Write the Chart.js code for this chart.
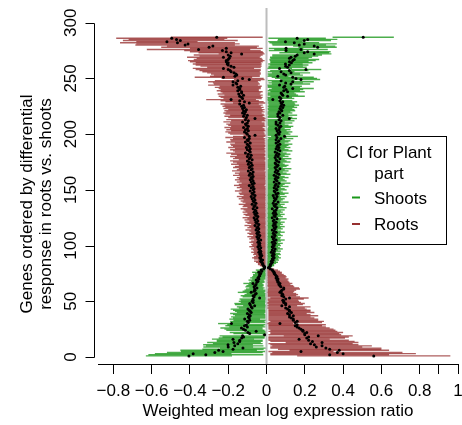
<!DOCTYPE html>
<html>
<head>
<meta charset="utf-8">
<script src="https://cdn.jsdelivr.net/npm/chart.js@4.4.1/dist/chart.umd.min.js"></script>
<style>
  html, body { margin: 0; padding: 0; background: #fff; }
  canvas { display: block; }
</style>
</head>
<body>
<canvas id="chart" width="462" height="425"></canvas>
<script>
// genes are listed from the bottom of the plot (rank 1) to the top (rank 287)
const rootMean = [
  0.56, 0.33, 0.40, 0.37, 0.18, 0.38, 0.33, 0.31, 0.26, 0.29,
  0.25, 0.23, 0.29, 0.24, 0.22, 0.17, 0.21, 0.22, 0.27, 0.20,
  0.20, 0.21, 0.19, 0.19, 0.18, 0.17, 0.16, 0.15, 0.16, 0.07,
  0.15, 0.16, 0.14, 0.14, 0.13, 0.12, 0.14, 0.12, 0.11, 0.13,
  0.12, 0.12, 0.11, 0.10, 0.12, 0.08, 0.10, 0.10, 0.09, 0.09,
  0.085, 0.10, 0.12, 0.09, 0.08, 0.085, 0.08, 0.07, 0.075, 0.08,
  0.09, 0.09, 0.075, 0.07, 0.065, 0.07, 0.06, 0.06, 0.055, 0.06,
  0.05, 0.055, 0.05, 0.045, 0.04, 0.04, 0.035, 0.03, 0.02, 0.01,
  -0.01, -0.015, -0.02, -0.02, -0.025, -0.03, -0.02, -0.03, -0.035, -0.03,
  -0.025, -0.035, -0.03, -0.04, -0.03, -0.035, -0.04, -0.03, -0.045, -0.035,
  -0.04, -0.035, -0.045, -0.04, -0.03, -0.045, -0.04, -0.05, -0.035, -0.045,
  -0.05, -0.04, -0.045, -0.055, -0.04, -0.05, -0.045, -0.06, -0.04, -0.05,
  -0.055, -0.045, -0.06, -0.05, -0.065, -0.045, -0.055, -0.06, -0.05, -0.065,
  -0.055, -0.06, -0.07, -0.05, -0.065, -0.06, -0.075, -0.055, -0.065, -0.07,
  -0.06, -0.075, -0.065, -0.08, -0.06, -0.07, -0.075, -0.065, -0.085, -0.07,
  -0.065, -0.08, -0.07, -0.09, -0.075, -0.065, -0.08, -0.07, -0.085, -0.075,
  -0.08, -0.07, -0.09, -0.075, -0.085, -0.07, -0.095, -0.08, -0.075, -0.09,
  -0.085, -0.075, -0.095, -0.08, -0.09, -0.10, -0.075, -0.09, -0.085, -0.10,
  -0.08, -0.095, -0.11, -0.085, -0.09, -0.10, -0.085, -0.105, -0.09, -0.095,
  -0.10, -0.085, -0.11, -0.095, -0.10, -0.09, -0.115, -0.09, -0.06, -0.10,
  -0.105, -0.115, -0.095, -0.11, -0.10, -0.12, -0.095, -0.105, -0.11, -0.10,
  -0.125, -0.095, -0.11, -0.06, -0.105, -0.12, -0.10, -0.115, -0.125, -0.11,
  -0.12, -0.105, -0.125, -0.115, -0.13, -0.12, -0.14, -0.09, -0.115, -0.14,
  -0.185, -0.125, -0.13, -0.14, -0.12, -0.145, -0.13, -0.13, -0.15, -0.14,
  -0.14, -0.15, -0.135, -0.175, -0.155, -0.16, -0.175, -0.15, -0.09, -0.125,
  -0.225, -0.165, -0.155, -0.16, -0.17, -0.185, -0.19, -0.20, -0.225, -0.17,
  -0.185, -0.20, -0.205, -0.20, -0.21, -0.21, -0.20, -0.195, -0.225, -0.19,
  -0.20, -0.13, -0.185, -0.21, -0.23, -0.355, -0.21, -0.30, -0.28, -0.425,
  -0.41, -0.465, -0.52, -0.45, -0.47, -0.495, -0.26
];
const rootHalf = [
  0.40, 0.31, 0.38, 0.34, 0.17, 0.26, 0.27, 0.29, 0.24, 0.26,
  0.23, 0.22, 0.19, 0.22, 0.21, 0.16, 0.20, 0.21, 0.18, 0.19,
  0.18, 0.19, 0.18, 0.17, 0.17, 0.16, 0.15, 0.14, 0.15, 0.07,
  0.14, 0.14, 0.13, 0.13, 0.12, 0.11, 0.13, 0.11, 0.10, 0.12,
  0.11, 0.11, 0.10, 0.10, 0.11, 0.08, 0.09, 0.10, 0.09, 0.08,
  0.08, 0.095, 0.10, 0.085, 0.075, 0.08, 0.075, 0.07, 0.07, 0.075,
  0.085, 0.08, 0.07, 0.07, 0.06, 0.065, 0.06, 0.055, 0.055, 0.055,
  0.05, 0.05, 0.05, 0.045, 0.04, 0.04, 0.035, 0.03, 0.02, 0.01,
  0.015, 0.02, 0.025, 0.025, 0.03, 0.035, 0.025, 0.035, 0.04, 0.035,
  0.03, 0.035, 0.035, 0.04, 0.035, 0.035, 0.04, 0.035, 0.045, 0.04,
  0.04, 0.035, 0.045, 0.04, 0.035, 0.045, 0.04, 0.05, 0.035, 0.045,
  0.05, 0.04, 0.045, 0.055, 0.04, 0.05, 0.045, 0.055, 0.04, 0.05,
  0.055, 0.045, 0.055, 0.05, 0.06, 0.045, 0.055, 0.06, 0.05, 0.06,
  0.055, 0.06, 0.065, 0.05, 0.06, 0.06, 0.07, 0.055, 0.06, 0.065,
  0.06, 0.07, 0.065, 0.075, 0.06, 0.07, 0.07, 0.065, 0.08, 0.07,
  0.065, 0.075, 0.07, 0.08, 0.07, 0.065, 0.075, 0.07, 0.08, 0.07,
  0.075, 0.07, 0.085, 0.07, 0.08, 0.07, 0.085, 0.075, 0.07, 0.085,
  0.08, 0.07, 0.09, 0.075, 0.085, 0.09, 0.07, 0.085, 0.08, 0.09,
  0.075, 0.09, 0.10, 0.08, 0.085, 0.09, 0.08, 0.095, 0.085, 0.09,
  0.09, 0.08, 0.10, 0.09, 0.09, 0.085, 0.10, 0.085, 0.06, 0.09,
  0.095, 0.10, 0.09, 0.10, 0.09, 0.10, 0.09, 0.095, 0.10, 0.09,
  0.10, 0.09, 0.10, 0.06, 0.095, 0.10, 0.09, 0.10, 0.10, 0.10,
  0.10, 0.095, 0.10, 0.10, 0.10, 0.10, 0.10, 0.085, 0.10, 0.10,
  0.13, 0.10, 0.11, 0.11, 0.10, 0.11, 0.10, 0.11, 0.11, 0.10,
  0.11, 0.12, 0.11, 0.13, 0.12, 0.12, 0.13, 0.12, 0.08, 0.11,
  0.15, 0.13, 0.12, 0.13, 0.14, 0.15, 0.16, 0.17, 0.16, 0.14,
  0.16, 0.17, 0.18, 0.17, 0.19, 0.20, 0.18, 0.17, 0.19, 0.16,
  0.18, 0.12, 0.17, 0.19, 0.20, 0.27, 0.19, 0.25, 0.24, 0.26,
  0.27, 0.30, 0.16, 0.30, 0.25, 0.29, 0.24
];
const shootMean = [
  -0.405, -0.317, -0.383, -0.27, -0.227, -0.25, -0.175, -0.123, -0.20, -0.166,
  -0.201, -0.15, -0.17, -0.14, -0.14, -0.175, -0.13, -0.12, -0.125, -0.01,
  -0.088, -0.097, -0.054, -0.11, -0.12, -0.131, -0.10, -0.115, -0.105, -0.183,
  -0.095, -0.10, -0.088, -0.114, -0.09, -0.095, -0.085, -0.09, -0.10, -0.08,
  -0.085, -0.09, -0.097, -0.075, -0.08, -0.062, -0.085, -0.088, -0.07, -0.075,
  -0.07, -0.071, -0.036, -0.065, -0.07, -0.06, -0.054, -0.08, -0.065, -0.06,
  -0.062, -0.05, -0.065, -0.06, -0.055, -0.071, -0.05, -0.045, -0.054, -0.04,
  -0.045, -0.04, -0.035, -0.036, -0.03, -0.04, -0.025, -0.028, -0.015, -0.01,
  0.015, 0.02, 0.02, 0.025, 0.03, 0.025, 0.035, 0.03, 0.04, 0.035,
  0.03, 0.04, 0.035, 0.025, 0.04, 0.03, 0.045, 0.035, 0.03, 0.04,
  0.035, 0.045, 0.03, 0.04, 0.05, 0.035, 0.04, 0.03, 0.045, 0.04,
  0.035, 0.05, 0.04, 0.03, 0.045, 0.04, 0.05, 0.035, 0.045, 0.04,
  0.05, 0.035, 0.04, 0.055, 0.03, 0.045, 0.04, 0.05, 0.035, 0.045,
  0.04, 0.05, 0.03, 0.055, 0.045, 0.04, 0.05, 0.035, 0.06, 0.04,
  0.045, 0.05, 0.04, 0.055, 0.035, 0.05, 0.06, 0.045, 0.04, 0.055,
  0.05, 0.04, 0.06, 0.045, 0.05, 0.065, 0.04, 0.055, 0.05, 0.045,
  0.06, 0.05, 0.04, 0.065, 0.055, 0.045, 0.06, 0.05, 0.07, 0.045,
  0.055, 0.06, 0.05, 0.045, 0.065, 0.055, 0.05, 0.07, 0.045, 0.06,
  0.05, 0.065, 0.055, 0.045, 0.07, 0.06, 0.05, 0.065, 0.055, 0.06,
  0.07, 0.05, 0.06, 0.065, 0.05, 0.075, 0.055, 0.094, 0.05, 0.065,
  0.06, 0.07, 0.055, 0.065, 0.05, 0.068, 0.075, 0.06, 0.05, 0.07,
  0.05, 0.076, 0.065, 0.119, 0.07, 0.06, 0.085, 0.059, 0.07, 0.065,
  0.08, 0.076, 0.07, 0.085, 0.075, 0.09, 0.08, 0.076, 0.085, 0.07,
  0.033, 0.075, 0.068, 0.11, 0.085, 0.08, 0.076, 0.11, 0.09, 0.102,
  0.137, 0.09, 0.095, 0.068, 0.128, 0.10, 0.137, 0.076, 0.18, 0.154,
  0.137, 0.059, 0.10, 0.09, 0.128, 0.076, 0.119, 0.206, 0.068, 0.11,
  0.10, 0.119, 0.099, 0.13, 0.12, 0.137, 0.145, 0.12, 0.128, 0.15,
  0.16, 0.249, 0.197, 0.215, 0.102, 0.18, 0.102, 0.267, 0.249, 0.171,
  0.197, 0.145, 0.099, 0.197, 0.215, 0.16, 0.505
];
const shootHalf = [
  0.225, 0.30, 0.20, 0.25, 0.22, 0.20, 0.16, 0.12, 0.13, 0.15,
  0.13, 0.13, 0.14, 0.12, 0.12, 0.11, 0.12, 0.11, 0.12, 0.01,
  0.085, 0.095, 0.05, 0.10, 0.10, 0.11, 0.095, 0.10, 0.10, 0.07,
  0.09, 0.09, 0.085, 0.08, 0.085, 0.09, 0.08, 0.085, 0.09, 0.075,
  0.08, 0.085, 0.09, 0.07, 0.075, 0.06, 0.08, 0.08, 0.065, 0.07,
  0.065, 0.07, 0.035, 0.06, 0.065, 0.055, 0.05, 0.07, 0.06, 0.055,
  0.045, 0.04, 0.045, 0.045, 0.04, 0.05, 0.04, 0.035, 0.04, 0.035,
  0.04, 0.035, 0.035, 0.035, 0.03, 0.035, 0.025, 0.028, 0.015, 0.01,
  0.015, 0.02, 0.02, 0.025, 0.03, 0.025, 0.03, 0.03, 0.035, 0.03,
  0.03, 0.035, 0.035, 0.025, 0.035, 0.03, 0.04, 0.035, 0.03, 0.035,
  0.035, 0.04, 0.03, 0.035, 0.045, 0.035, 0.035, 0.03, 0.04, 0.035,
  0.035, 0.045, 0.035, 0.03, 0.04, 0.035, 0.045, 0.035, 0.04, 0.035,
  0.045, 0.035, 0.035, 0.05, 0.03, 0.04, 0.035, 0.045, 0.035, 0.04,
  0.035, 0.045, 0.03, 0.05, 0.04, 0.035, 0.045, 0.035, 0.055, 0.035,
  0.04, 0.045, 0.035, 0.05, 0.035, 0.045, 0.055, 0.04, 0.035, 0.05,
  0.045, 0.035, 0.055, 0.04, 0.045, 0.06, 0.035, 0.05, 0.045, 0.04,
  0.055, 0.045, 0.035, 0.06, 0.05, 0.04, 0.055, 0.045, 0.06, 0.04,
  0.05, 0.055, 0.045, 0.04, 0.06, 0.05, 0.045, 0.06, 0.04, 0.055,
  0.045, 0.06, 0.05, 0.04, 0.065, 0.055, 0.045, 0.06, 0.05, 0.055,
  0.065, 0.045, 0.055, 0.06, 0.045, 0.065, 0.05, 0.07, 0.045, 0.06,
  0.055, 0.065, 0.05, 0.06, 0.045, 0.06, 0.065, 0.055, 0.045, 0.065,
  0.045, 0.07, 0.06, 0.04, 0.065, 0.055, 0.075, 0.055, 0.065, 0.06,
  0.07, 0.07, 0.065, 0.075, 0.07, 0.08, 0.07, 0.07, 0.075, 0.065,
  0.03, 0.07, 0.065, 0.09, 0.08, 0.075, 0.07, 0.09, 0.085, 0.09,
  0.11, 0.085, 0.09, 0.065, 0.10, 0.09, 0.11, 0.07, 0.10, 0.11,
  0.11, 0.055, 0.09, 0.085, 0.10, 0.07, 0.10, 0.08, 0.065, 0.10,
  0.09, 0.10, 0.09, 0.11, 0.10, 0.12, 0.13, 0.10, 0.11, 0.12,
  0.13, 0.09, 0.13, 0.12, 0.09, 0.14, 0.09, 0.10, 0.11, 0.14,
  0.17, 0.13, 0.09, 0.14, 0.155, 0.15, 0.16
];

const xTicks = [-0.8, -0.6, -0.4, -0.2, 0, 0.2, 0.4, 0.6, 0.8, 0.9, 1];
const xTickLabels = ['\u22120.8', '\u22120.6', '\u22120.4', '\u22120.2', '0', '0.2', '0.4', '0.6', '0.8', '', '1'];
const yTicks = [0, 50, 100, 150, 200, 250, 300];
const yTickLabels = ['0', '50', '100', '150', '200', '250', '300'];

const shootColor = 'rgba(0, 140, 0, 0.7)';
const rootColor = 'rgba(139, 26, 26, 0.7)';
const FONT = "'Liberation Sans', Arial, Helvetica, sans-serif";

Chart.defaults.font.family = FONT;
Chart.defaults.font.size = 17;
Chart.defaults.color = '#000';

// rank of each gene on the y axis
const rank = rootMean.map((v, i) => i + 1);

function intervals(mean, half) {
  return mean.map((m, i) => ({ y: rank[i], x: [m - half[i], m + half[i]] }));
}
function points(mean) {
  return mean.map((m, i) => ({ x: m, y: rank[i] }));
}

const decorations = {
  id: 'decorations',
  afterDatasetDraw(chart, args) {
    // grey zero line goes over the bars but under the dots
    if (args.index !== 2) return;
    const {ctx, chartArea} = chart;
    const x0 = chart.scales.x.getPixelForValue(0);
    ctx.save();
    ctx.strokeStyle = '#bdbdbd';
    ctx.lineWidth = 2;
    ctx.beginPath();
    ctx.moveTo(x0, chartArea.top);
    ctx.lineTo(x0, chartArea.bottom);
    ctx.stroke();
    ctx.restore();
  },
  afterDraw(chart) {
    const {ctx} = chart;
    const ys = chart.scales.y;
    const axisX = 94.5;
    ctx.save();

    // y axis, R style: line only between first and last tick
    ctx.strokeStyle = '#000';
    ctx.lineWidth = 1;
    ctx.beginPath();
    ctx.moveTo(axisX, Math.round(ys.getPixelForValue(yTicks[0])) + 0.5);
    ctx.lineTo(axisX, Math.round(ys.getPixelForValue(yTicks[yTicks.length - 1])) + 0.5);
    yTicks.forEach(t => {
      const py = Math.round(ys.getPixelForValue(t)) + 0.5;
      ctx.moveTo(axisX, py);
      ctx.lineTo(axisX - 9, py);
    });
    ctx.stroke();

    ctx.fillStyle = '#000';
    ctx.font = '17px ' + FONT;
    ctx.textAlign = 'center';
    ctx.textBaseline = 'middle';
    yTicks.forEach((t, i) => {
      ctx.save();
      ctx.translate(71, ys.getPixelForValue(t));
      ctx.rotate(-Math.PI / 2);
      ctx.fillText(yTickLabels[i], 0, 0);
      ctx.restore();
    });

    // y axis title, two lines
    ctx.save();
    ctx.translate(0, 204);
    ctx.rotate(-Math.PI / 2);
    ctx.fillText('Genes ordered by differential', 0, 27);
    ctx.fillText('response in roots vs. shoots', 0, 46);
    ctx.restore();

    // legend box
    ctx.strokeStyle = '#000';
    ctx.lineWidth = 1;
    ctx.fillStyle = '#fff';
    ctx.fillRect(337.5, 136.5, 109, 108);
    ctx.strokeRect(337.5, 136.5, 109, 108);
    ctx.fillStyle = '#000';
    ctx.textBaseline = 'alphabetic';
    ctx.textAlign = 'center';
    ctx.fillText('CI for Plant', 389, 158);
    ctx.fillText('part', 389, 179);
    ctx.textAlign = 'left';
    ctx.fillText('Shoots', 374, 203.5);
    ctx.fillText('Roots', 374, 230);
    ctx.lineWidth = 2;
    ctx.strokeStyle = 'rgba(0, 140, 0, 0.9)';
    ctx.beginPath();
    ctx.moveTo(352, 197.5);
    ctx.lineTo(360, 197.5);
    ctx.stroke();
    ctx.strokeStyle = 'rgba(139, 26, 26, 0.9)';
    ctx.beginPath();
    ctx.moveTo(352, 224);
    ctx.lineTo(360, 224);
    ctx.stroke();
    ctx.restore();
  }
};

new Chart(document.getElementById('chart'), {
  type: 'bar',
  data: {
    datasets: [
      {
        type: 'scatter',
        label: 'Roots mean',
        data: points(rootMean),
        pointRadius: 1.5,
        pointBackgroundColor: '#000',
        pointBorderWidth: 0,
        order: 0
      },
      {
        type: 'scatter',
        label: 'Shoots mean',
        data: points(shootMean),
        pointRadius: 1.5,
        pointBackgroundColor: '#000',
        pointBorderWidth: 0,
        order: 0
      },
      {
        type: 'bar',
        label: 'Shoots',
        indexAxis: 'y',
        data: intervals(shootMean, shootHalf),
        backgroundColor: shootColor,
        barThickness: 1.4,
        grouped: false,
        borderWidth: 0,
        inflateAmount: 0,
        order: 1
      },
      {
        type: 'bar',
        label: 'Roots',
        indexAxis: 'y',
        data: intervals(rootMean, rootHalf),
        backgroundColor: rootColor,
        barThickness: 1.4,
        grouped: false,
        borderWidth: 0,
        inflateAmount: 0,
        order: 2
      }
    ]
  },
  options: {
    responsive: false,
    animation: false,
    layout: {
      padding: { left: 98, right: 2, top: 8, bottom: 0 }
    },
    plugins: {
      legend: { display: false },
      tooltip: { enabled: false }
    },
    scales: {
      x: {
        type: 'linear',
        min: -0.88,
        max: 1.0,
        offset: false,
        afterBuildTicks: function(scale) {
          scale.ticks = xTicks.map(v => ({ value: v }));
        },
        afterFit: function(scale) {
          scale.height = 61;
          scale.paddingLeft = 0;
          scale.paddingRight = 0;
        },
        ticks: {
          autoSkip: false,
          maxRotation: 0,
          minRotation: 0,
          padding: 7,
          callback: function(value, index) {
            return xTickLabels[index];
          }
        },
        grid: {
          display: true,
          offset: false,
          drawOnChartArea: false,
          drawTicks: true,
          tickLength: 10,
          color: '#000',
          lineWidth: 1
        },
        border: { display: true, color: '#000', width: 1 },
        title: {
          display: true,
          text: 'Weighted mean log expression ratio',
          padding: { top: 0, bottom: 3 }
        }
      },
      y: {
        type: 'linear',
        display: false,
        offset: false,
        min: -6.28,
        max: 313.2
      }
    }
  },
  plugins: [decorations]
});
</script>
</body>
</html>
